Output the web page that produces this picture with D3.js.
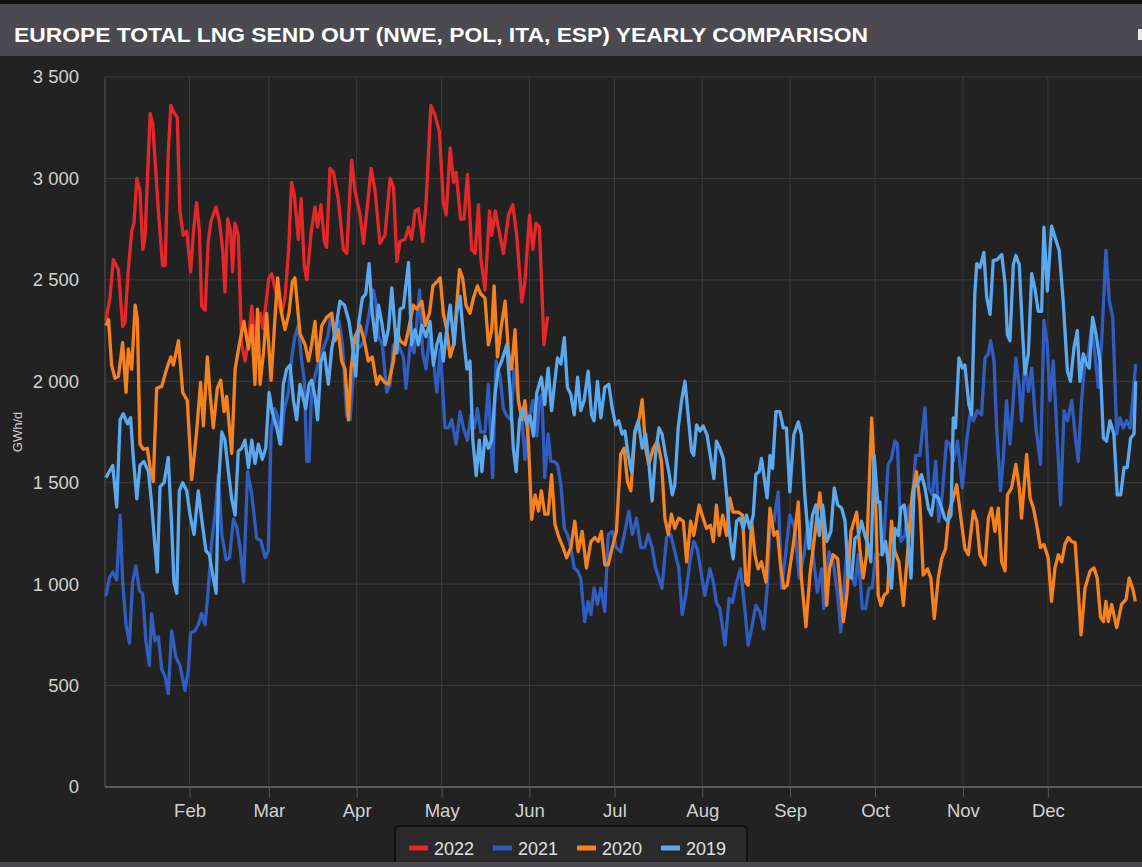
<!DOCTYPE html>
<html>
<head>
<meta charset="utf-8">
<script src="https://d3js.org/d3.v7.min.js"></script>
<style>
body { margin: 0; background: #222222; }
svg { display: block; font-family: "Liberation Sans", Arial, sans-serif; }
</style>
</head>
<body>
<div id="chart"></div>
<script>

// series names + colours, in legend order
var years = ["2022", "2021", "2020", "2019"];
var colors = ["#e4282a", "#2f5ec0", "#f5821f", "#5aa9ee"];
var yTicks = [0, 500, 1000, 1500, 2000, 2500, 3000, 3500];
var title = "EUROPE TOTAL LNG SEND OUT (NWE, POL, ITA, ESP) YEARLY COMPARISON";
var yTitle = "GWh/d";

// [day of year, GWh/d]
var s2022 = [[1.5,2300],[2.9,2410],[4.1,2600],[5.9,2550],[7.4,2270],[8.2,2290],[9.4,2550],[10.6,2740],[11.4,2780],[12.4,3000],[13.5,2940],[14.5,2650],[15.3,2710],[17.1,3320],[18,3270],[20,2840],[21.5,2570],[22.4,2570],[23.5,3130],[24.4,3360],[25.3,3330],[26.7,3300],[27.6,2840],[28.8,2720],[30,2740],[31.4,2540],[32.4,2740],[33.5,2880],[34.5,2740],[35.3,2370],[36.5,2350],[37.6,2690],[38.6,2790],[40.4,2860],[41.5,2790],[42.7,2650],[43.5,2440],[44.5,2800],[45.5,2740],[46.2,2540],[47,2780],[48.2,2720],[49.4,2180],[50.6,2100],[51.8,2200],[53,2370],[54,2180],[56,2335],[57,2260],[59,2510],[60,2530],[62,2410],[63.5,2335],[64.7,2410],[66,2650],[67,2980],[68,2920],[69.4,2700],[70.4,2900],[71.5,2570],[72.4,2500],[74,2740],[75.3,2860],[76.2,2760],[77.4,2870],[78.6,2690],[79.4,2660],[80.6,3050],[81.8,3030],[83.5,2900],[85.3,2650],[86.5,2630],[88.2,3090],[89.4,2940],[91.2,2820],[92.4,2680],[93.9,2880],[95.1,3050],[96.5,2940],[98.2,2680],[100,2720],[101.8,3000],[103,2960],[104.2,2590],[105.3,2690],[107.1,2700],[108.3,2760],[109.4,2700],[110.6,2840],[111.8,2850],[113.3,2690],[114.5,2880],[116.2,3360],[117.7,3310],[119.2,3230],[120.6,2880],[121.6,2820],[123,3150],[124.2,2980],[125.1,3030],[126.7,2800],[127.9,2800],[129.1,3020],[130.6,2650],[131.8,2630],[133,2870],[133.8,2610],[135.3,2450],[136.9,2840],[137.7,2720],[138.9,2840],[140,2760],[141.8,2630],[143.6,2820],[145.1,2870],[146.5,2720],[148.3,2390],[149.4,2490],[151,2820],[152.2,2650],[153.3,2780],[154.5,2760],[155.3,2480],[156.1,2180],[157.4,2320]];

var s2021 = [[1.5,940],[2.7,1030],[3.9,1060],[5.3,1020],[6.5,1340],[7.4,1010],[8.6,800],[9.8,710],[10.9,1010],[12.1,1090],[13.3,970],[14.5,950],[15.6,720],[16.8,600],[17.6,855],[18.8,720],[20,740],[21.2,580],[22.4,545],[23.5,460],[24.7,770],[26.2,640],[27.6,600],[29.4,475],[30.6,580],[31.4,760],[32.9,770],[34.1,800],[35.3,855],[36.5,800],[37.6,970],[38.8,1205],[40,1340],[41.2,1540],[42.4,1245],[43.9,1120],[45.1,1130],[46.5,1320],[47.6,1285],[48.8,1185],[50.1,1010],[51.5,1555],[53,1440],[54.7,1225],[56.2,1215],[57.7,1130],[58.8,1165],[59.8,1750],[61,1865],[62.1,1830],[63.3,1690],[64.5,1865],[65.9,1945],[67.1,2120],[68.2,2220],[69.4,2275],[70.6,2100],[71.5,2005],[72.4,1605],[73.2,1605],[74.1,1945],[75.3,2025],[76.7,2100],[78.2,2160],[79.8,2220],[81,2335],[82.4,2220],[83.8,2295],[85,2180],[86.5,1830],[87.7,1810],[88.8,2025],[90.4,2160],[91.8,2180],[93,2220],[94.4,2335],[95.9,2450],[96.7,2395],[97.7,2220],[99.1,2180],[100.6,1945],[101.8,1985],[103,2180],[104.7,2180],[106.5,2120],[107.4,1965],[108.9,2180],[110.3,2140],[112.2,2450],[113.3,2140],[114.5,2060],[115.7,2220],[117.1,2100],[118.3,1945],[119.5,2160],[121.2,1770],[122.4,1770],[123.6,1810],[125.1,1690],[126.5,1850],[127.7,1770],[129.1,1710],[130.3,1830],[131.5,1770],[132.6,1865],[133.8,1750],[135.3,1750],[136.5,1985],[138,1525],[139.2,2100],[140.6,2025],[141.8,1865],[143,1830],[144.4,1810],[145.6,2060],[147.1,1905],[148.3,1830],[149.4,1615],[151,1830],[152.2,1905],[153.6,1730],[154.6,1920],[155.4,1935],[156.4,1525],[157.6,1740],[158.5,1605],[159.7,1605],[160.9,1590],[162.1,1490],[163.3,1275],[164.4,1245],[165.6,1180],[166.8,1080],[168,1065],[169.1,1030],[170.5,815],[171.7,915],[172.7,850],[173.8,980],[175,900],[176.2,980],[177.6,865],[178.8,1245],[180.2,1260],[181.7,1180],[183.2,1160],[184.7,1260],[186.1,1360],[187.3,1245],[188.8,1325],[190.3,1180],[191.7,1180],[192.9,1245],[194.3,1180],[195.5,1080],[196.7,1030],[197.8,980],[199.4,1230],[200.9,1245],[202.3,1160],[203.7,1080],[204.9,850],[206.2,945],[207.6,1110],[209,1210],[210.2,1175],[211.4,1075],[212.9,945],[214.7,1075],[215.9,1010],[217,910],[218.2,880],[220,700],[221.5,930],[222.7,910],[224.1,1010],[225.5,1075],[227,880],[228.2,700],[229.4,780],[230.9,895],[232.3,865],[233.7,780],[234.9,980],[236.1,1340],[237.3,1310],[238.8,1455],[240,980],[241.5,1160],[242.9,1340],[244.7,1275],[246.2,1030],[247.9,1145],[249.4,1310],[250.9,1175],[252.6,960],[254.1,1075],[254.9,880],[256.7,1160],[258.2,1110],[259.8,945],[260.9,765],[262.1,995],[263.3,1210],[264.5,1045],[265.9,995],[267.1,1145],[268.5,880],[269.7,880],[270.8,980],[272,980],[273.2,1145],[274.7,1145],[275.9,1160],[277.6,1590],[278.8,1620],[280,1705],[280.9,1690],[282.1,1210],[283.5,1240],[284.7,1375],[286.1,1405],[287.3,1635],[288.8,1635],[290.6,1870],[292,1475],[293.2,1440],[294.4,1605],[295.5,1310],[296.7,1440],[298.2,1705],[299.4,1690],[300.6,1605],[302.1,1705],[303.8,1475],[305.3,1705],[306.5,1835],[307.7,1805],[309.1,1855],[310.6,1835],[311.8,2115],[313,2135],[313.8,2200],[315,2100],[315.9,1770],[317.3,1460],[318.3,1625],[319.4,1905],[320.6,1690],[321.6,1870],[322.7,2115],[323.9,1970],[324.7,1805],[325.9,2100],[327.1,1950],[328.3,2065],[329.8,1770],[331.4,1590],[332.6,2300],[333.8,2180],[334.7,1905],[335.9,2100],[337.1,1770],[338.5,1390],[339.7,1855],[340.9,1805],[342.4,1905],[343.6,1740],[344.7,1605],[345.9,1905],[347.1,2100],[348.3,2135],[349.4,2265],[350.6,2135],[351.8,1970],[353,2200],[354.5,2645],[355.7,2395],[356.9,2315],[358.3,1740],[359.4,1820],[360.6,1770],[361.8,1805],[363,1770],[364.1,1935],[365,2085]];

var s2020 = [[1.5,2275],[2.4,2305],[3.5,2080],[4.7,2015],[5.9,2025],[7.4,2190],[8.6,1945],[9.4,2160],[10.6,2060],[11.8,2375],[12.6,2305],[13.5,1690],[14.7,1665],[16.1,1670],[17.1,1575],[18.2,1505],[19.4,1965],[21.2,1975],[22.9,2060],[24.4,2120],[25.3,2080],[27.1,2200],[28.6,1945],[30.2,1905],[31.8,1515],[33.5,1750],[34.9,1995],[35.9,1780],[37.3,2120],[38.2,1945],[39.4,1770],[40.8,1965],[42,2005],[43.2,1850],[44.1,1925],[45.9,1645],[47.1,2060],[48.8,2200],[50.2,2295],[51.8,2160],[53,2275],[54.1,1985],[55,2355],[55.9,1985],[57.1,2140],[58.2,2335],[59.8,2005],[61,2275],[62.1,2510],[63.5,2335],[64.7,2255],[66.1,2335],[67.3,2490],[68.2,2510],[70,2235],[71.8,2180],[73,2100],[74.1,2180],[75.3,2295],[76.2,2100],[77.7,2275],[79.4,2315],[81.2,2335],[82.4,2200],[83.5,2255],[84.7,2100],[85.9,2060],[87.1,1810],[88,2060],[89.4,2220],[91.2,2275],[92.7,2200],[94.1,2100],[95.5,2120],[97.1,1985],[98.2,2025],[99.8,1995],[101.2,1985],[103,2100],[104.2,2255],[105.3,2200],[107.1,2180],[108.3,2255],[110,2375],[111.2,2355],[113,2395],[114.2,2275],[115.7,2335],[116.9,2470],[118.3,2490],[119.5,2510],[120.6,2335],[121.8,2255],[123,2120],[124.2,2180],[125.1,2335],[126.3,2550],[127.4,2510],[128.6,2375],[130,2335],[131.2,2410],[132.6,2470],[133.8,2430],[135.3,2410],[136.5,2180],[137.7,2255],[138.5,2470],[139.7,2120],[140.9,2255],[142.4,2395],[143.6,2140],[144.7,2060],[145.9,2255],[147.1,1905],[148.3,1810],[149.4,1905],[150.6,1710],[151.8,1320],[153,1440],[154.2,1360],[155.2,1460],[156.4,1345],[157.6,1345],[158.8,1540],[160,1295],[161.4,1230],[162.9,1180],[164.1,1130],[165.6,1180],[167,1310],[168.2,1160],[169.6,1260],[171.1,1080],[172.7,1210],[174.1,1230],[175.3,1210],[176.4,1260],[177.6,1095],[178.8,1095],[180.2,1180],[181.7,1260],[183.2,1640],[184.4,1670],[185.6,1505],[186.8,1460],[188.2,1740],[189.6,1805],[190.8,1910],[192,1670],[193.1,1590],[194.7,1670],[196.2,1705],[197.6,1605],[198.8,1325],[200,1245],[201.1,1345],[202.3,1275],[203.7,1325],[205.3,1310],[206.5,1110],[207.9,1310],[209,1240],[210.9,1390],[212.3,1325],[213.5,1275],[214.9,1290],[215.9,1210],[217,1390],[218,1240],[219.2,1340],[220.6,1240],[221.7,1425],[222.9,1355],[224.7,1355],[226.2,1340],[227.4,1010],[228.2,995],[229.4,1310],[230.6,1145],[231.7,1075],[232.9,1110],[234.5,1010],[235.9,1375],[237.3,1240],[238.5,1260],[239.6,1095],[240.8,980],[242,995],[244.1,1190],[245.9,1405],[247,1030],[248.6,790],[250,1045],[252.3,1310],[253.5,1450],[254.5,1325],[255.9,895],[256.9,1075],[258.2,1145],[259.8,1125],[261.8,815],[263,945],[264.5,1260],[266.5,1355],[267.6,1175],[268.8,1030],[270,1145],[271.8,1820],[273.2,1405],[274.1,945],[275.1,895],[276.2,945],[277.4,960],[278.8,1310],[280,1160],[281.4,1110],[283,895],[284.5,1160],[286.1,1440],[287.6,1555],[288.8,1405],[290,1045],[291.5,1075],[292.7,1030],[293.9,830],[295.3,1030],[296.5,1125],[297.9,1175],[299.1,1355],[300.6,1425],[301.8,1490],[303.3,1325],[304.7,1175],[305.9,1145],[307.7,1360],[308.9,1310],[310,1145],[311.8,1095],[313,1325],[314.1,1375],[315.3,1260],[316.5,1375],[317.7,1110],[318.9,1065],[319.7,1440],[321.2,1475],[322.7,1590],[323.9,1475],[324.7,1325],[326.5,1640],[327.7,1425],[328.9,1375],[330,1295],[331.4,1180],[332.6,1195],[334.1,1130],[335.3,915],[336.5,1080],[337.7,1145],[338.9,1110],[340,1195],[341.2,1230],[342.4,1210],[343.6,1205],[344.7,980],[345.7,750],[347.1,980],[348.9,1065],[350.3,1080],[351.4,1030],[352.6,835],[353.6,815],[354.5,915],[355.3,815],[356.5,900],[358.3,785],[360,900],[361.6,925],[362.7,1030],[363.9,980],[364.9,915]];

var s2019 = [[1.5,1525],[2.7,1555],[3.9,1585],[5.3,1380],[6.5,1810],[7.6,1840],[9.1,1790],[10.2,1820],[11.2,1615],[12.4,1420],[13.5,1585],[14.9,1605],[16.5,1555],[17.6,1400],[18.8,1185],[19.6,1060],[20.6,1480],[22,1500],[23.5,1625],[24.7,1285],[25.5,1010],[26.5,955],[27.4,1460],[28.6,1500],[30,1460],[31.2,1340],[32.6,1245],[34.1,1460],[35.3,1320],[36.8,1165],[38,1145],[39.4,1030],[40.4,955],[41.2,1480],[42.4,1750],[43.5,1710],[44.7,1555],[45.9,1420],[47.1,1340],[48.2,1655],[49.4,1670],[50.6,1710],[51.8,1575],[53,1710],[54.1,1595],[55.3,1690],[56.7,1615],[57.9,1670],[59.1,1945],[60.2,1850],[61.8,1770],[63,1690],[64.1,1985],[65.3,2060],[66.5,2080],[67.7,1905],[68.8,1810],[70,1985],[72,1865],[73.2,1985],[74.1,2005],[75.3,1925],[76.2,1810],[77.4,2100],[78.6,2140],[80,1985],[81.2,2160],[83,2295],[84.1,2395],[85.7,2375],[87.3,2295],[88.5,2180],[89.7,2025],[90.8,2295],[92,2410],[93.2,2430],[94.4,2580],[95.5,2335],[96.7,2200],[97.7,2375],[98.8,2295],[100,2180],[101.2,2255],[102.4,2460],[104.2,2140],[105.3,2355],[106.5,2365],[108.3,2585],[109.4,2180],[110.6,2255],[111.8,2180],[113,2275],[114.5,2220],[115.9,2295],[117.1,2080],[118.3,2180],[119.5,2235],[120.6,2100],[121.8,2255],[123,2375],[124.4,2180],[125.3,2335],[126.5,2420],[127.7,2220],[128.9,2060],[130,2100],[131,1710],[132.2,1535],[133.3,1710],[134.2,1555],[135.3,1730],[136.5,1670],[137.7,1710],[138.9,1945],[140,2060],[141.2,2100],[143,2180],[144.2,1945],[145.3,1670],[146.3,1555],[147.5,1810],[148.6,1865],[150,1790],[151.2,1830],[152.4,1730],[153.6,1945],[155.2,2020],[156.4,1885],[157.6,2065],[158.8,1855],[159.7,1970],[160.9,2115],[162.1,2085],[163.3,2215],[164.4,1970],[165.6,1935],[166.8,1835],[168,2020],[169.1,1855],[170.3,1905],[171.7,2050],[172.9,1835],[173.8,1805],[175,2000],[176.2,1820],[177.6,1970],[179,1985],[180.2,1870],[181.4,1785],[182.5,1805],[183.7,1740],[184.7,1755],[185.8,1640],[187,1555],[188.2,1755],[189.4,1805],[190.8,1670],[192,1740],[193.1,1605],[194.3,1410],[195.5,1640],[196.7,1770],[197.8,1740],[199,1640],[200.2,1555],[201.4,1440],[202.3,1490],[203.5,1770],[204.7,1905],[205.9,2000],[207,1835],[208.2,1655],[209,1635],[210,1785],[211.2,1755],[212.3,1780],[213.7,1735],[215.3,1590],[216.1,1520],[217,1705],[218.2,1670],[219.4,1620],[220.6,1440],[221.7,1240],[222.9,1125],[224.1,1310],[225.3,1325],[226.5,1275],[227.6,1340],[228.8,1275],[230,1340],[230.9,1540],[232.1,1555],[232.9,1620],[233.7,1540],[234.9,1425],[235.9,1635],[236.8,1570],[238,1850],[239.4,1850],[240.6,1770],[241.7,1770],[242.9,1455],[244.3,1735],[245.9,1800],[247,1735],[248.2,1440],[249.7,1175],[250.9,1340],[252.1,1390],[253.3,1240],[254.5,1390],[255.9,1210],[257.4,1260],[258.6,1475],[259.8,1390],[261.2,1375],[262.4,1310],[263.5,1045],[264.7,1030],[265.9,1225],[267.1,1240],[268.2,1310],[269.4,1240],[270.6,1190],[271.5,1110],[272.7,1635],[273.9,1405],[274.7,1405],[275.5,1145],[276.7,1210],[277.9,1075],[278.8,980],[280,1275],[281.2,1240],[282.1,1375],[283.3,1390],[284.5,1240],[285.7,1030],[286.8,1475],[288.2,1505],[289.4,1540],[290.6,1475],[291.8,1375],[292.9,1340],[293.9,1440],[295.3,1425],[296.5,1375],[297.6,1325],[298.6,1310],[299.8,1340],[300.6,1820],[301.4,1770],[302.6,2115],[303.8,2065],[304.7,2080],[306.1,1885],[307.1,1835],[308.2,2430],[308.9,2580],[310,2560],[311.4,2635],[312.4,2415],[313.6,2330],[314.7,2595],[316.1,2600],[317.7,2625],[318.9,2480],[319.7,2230],[320.6,2200],[321.8,2575],[322.7,2620],[323.9,2575],[325.1,2230],[325.9,2035],[327.1,2135],[328.3,2530],[329.4,2460],[330.6,2345],[331.8,2345],[332.6,2760],[333.8,2445],[335.3,2765],[336.5,2710],[338,2645],[339.4,2395],[340.9,2050],[342,2000],[343.2,2165],[344.4,2250],[345.3,2000],[346.5,2135],[347.7,2085],[348.6,2065],[349.8,2315],[351,2230],[352.4,2100],[353.6,1720],[354.7,1705],[355.9,1805],[357.3,1740],[358.5,1440],[359.7,1440],[360.9,1575],[362,1575],[363.2,1720],[364.4,1740],[365,2000]];

var series = [s2022, s2021, s2020, s2019];

var width = 1142, height = 867;
var plot = {left: 105, right: 1142, top: 77, bottom: 787};

var svg = d3.select("#chart")
  .append("svg")
    .attr("width", width)
    .attr("height", height);

svg.append("rect").attr("width", width).attr("height", height).attr("fill", "#222222");

// title bar
svg.append("rect").attr("x", 0).attr("y", 0).attr("width", width).attr("height", 4).attr("fill", "#111");
svg.append("rect").attr("x", 0).attr("y", 4).attr("width", width).attr("height", 52).attr("fill", "#4a4a50");
svg.append("text")
  .attr("x", 14).attr("y", 42)
  .attr("fill", "#ffffff")
  .attr("font-weight", "bold")
  .attr("font-size", "20.5px")
  .attr("textLength", 854)
  .attr("lengthAdjust", "spacingAndGlyphs")
  .text(title);
svg.append("rect").attr("x", 1138).attr("y", 29).attr("width", 4).attr("height", 11).attr("fill", "#e8e8e8");

// scales
var base = new Date(2019, 0, 1).getTime();
var x = d3.scaleTime()
  .domain([new Date(2019, 0, 1), new Date(2020, 0, 1)])
  .range([101.7, 1135.7]);
var y = d3.scaleLinear()
  .domain([0, 3500])
  .range([plot.bottom, plot.top]);

var monthTicks = d3.timeMonth.range(new Date(2019, 1, 1), new Date(2019, 11, 2));

// grid
svg.append("g")
  .selectAll("line")
  .data(yTicks.slice(1))
  .enter().append("line")
    .attr("x1", plot.left).attr("x2", plot.right)
    .attr("y1", function(d){ return y(d); })
    .attr("y2", function(d){ return y(d); })
    .attr("stroke", "#3b3b3b");
svg.append("g")
  .selectAll("line")
  .data(monthTicks)
  .enter().append("line")
    .attr("x1", function(d){ return x(d); })
    .attr("x2", function(d){ return x(d); })
    .attr("y1", plot.top).attr("y2", plot.bottom)
    .attr("stroke", "#3b3b3b");

// axes
var fmt = d3.formatLocale({decimal: ".", thousands: " ", grouping: [3], currency: ["", ""]}).format(",");
var yAxis = svg.append("g")
  .attr("transform", "translate(" + plot.left + ",0)")
  .call(d3.axisLeft(y).tickValues(yTicks).tickFormat(fmt).tickSize(0).tickPadding(26));
yAxis.select(".domain").remove();
yAxis.selectAll("text").attr("fill", "#d2d2d2").attr("font-size", "18.5px").attr("font-family", "Liberation Sans, Arial, sans-serif");

svg.append("line")
  .attr("x1", plot.left).attr("x2", plot.left)
  .attr("y1", plot.top).attr("y2", plot.bottom)
  .attr("stroke", "#555");

var xAxis = svg.append("g")
  .attr("transform", "translate(0," + plot.bottom + ")")
  .call(d3.axisBottom(x).tickValues(monthTicks).tickFormat(d3.timeFormat("%b")).tickSize(10).tickPadding(7));
xAxis.select(".domain").remove();
xAxis.selectAll("line").attr("stroke", "#5a5a5a");
xAxis.selectAll("text").attr("fill", "#d2d2d2").attr("font-size", "18.5px").attr("font-family", "Liberation Sans, Arial, sans-serif");

svg.append("line")
  .attr("x1", plot.left).attr("x2", plot.right)
  .attr("y1", plot.bottom).attr("y2", plot.bottom)
  .attr("stroke", "#5a5a5a").attr("stroke-width", 2);

svg.append("text")
  .attr("transform", "translate(22," + y(1750) + ") rotate(-90)")
  .attr("text-anchor", "middle")
  .attr("fill", "#cfcfcf")
  .attr("font-size", "13px")
  .text(yTitle);

// lines
var line = d3.line()
  .x(function(d){ return x(new Date(base + d[0] * 864e5)); })
  .y(function(d){ return y(d[1]); });

svg.append("g")
  .selectAll("path")
  .data(series)
  .enter().append("path")
    .attr("d", line)
    .attr("fill", "none")
    .attr("stroke", function(d, i){ return colors[i]; })
    .attr("stroke-width", 3.3)
    .attr("stroke-linejoin", "round");

// legend
var legend = svg.append("g").attr("transform", "translate(395,826)");
legend.append("rect")
  .attr("width", 352).attr("height", 44).attr("rx", 4)
  .attr("fill", "#2a2a2a").attr("stroke", "#111").attr("stroke-width", 2);
var item = legend.selectAll("g.item")
  .data(years)
  .enter().append("g")
    .attr("class", "item")
    .attr("transform", function(d, i){ return "translate(" + (14 + i * 84) + ",0)"; });
item.append("rect")
  .attr("y", 19.5).attr("width", 19).attr("height", 5)
  .attr("fill", function(d, i){ return colors[i]; });
item.append("text")
  .attr("x", 25).attr("y", 29)
  .attr("fill", "#e0e0e0")
  .attr("font-size", "18px")
  .text(function(d){ return d; });

// bottom strip
svg.append("rect").attr("x", 0).attr("y", 862).attr("width", width).attr("height", 5).attr("fill", "#4a4a50");

</script>
</body>
</html>
